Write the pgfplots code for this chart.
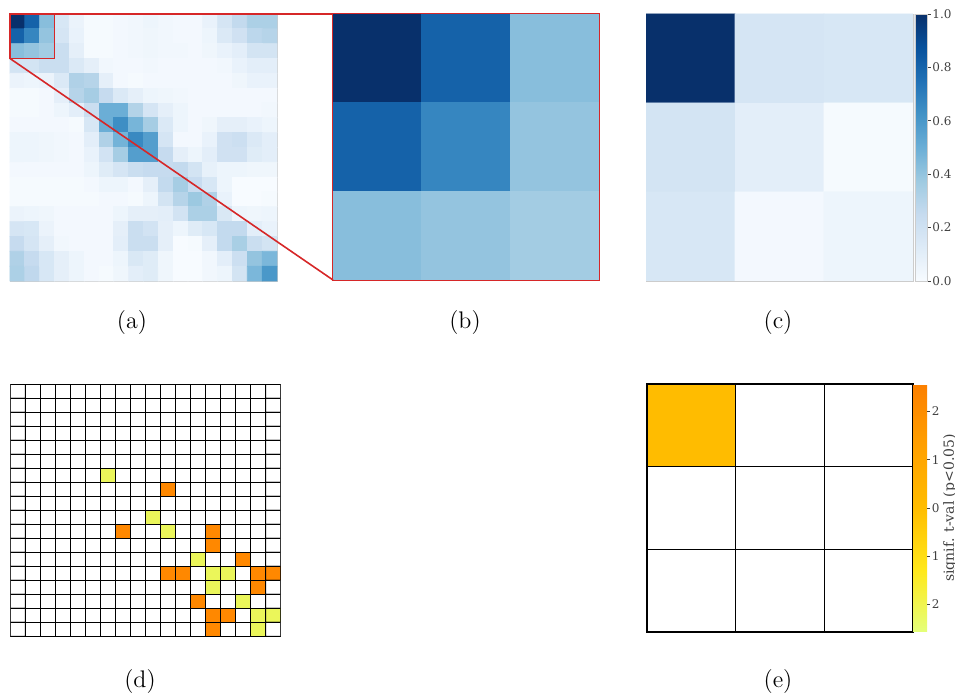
\documentclass[border=0pt]{standalone}
\usepackage{fontspec}
\usepackage{pgfplots}
\pgfplotsset{compat=1.18}
\usepgfplotslibrary{patchplots}
\newfontfamily\dvs{DejaVu Serif}
\definecolor{zoomred}{RGB}{214,39,40}

\pgfplotsset{
  colormap={blues}{rgb255=(247,251,255) rgb255=(222,235,247) rgb255=(198,219,239)
    rgb255=(158,202,225) rgb255=(107,174,214) rgb255=(66,146,198) rgb255=(33,113,181)
    rgb255=(8,81,156) rgb255=(8,48,107)},
  colormap={wistia}{rgb255=(228,255,122) rgb255=(255,232,26) rgb255=(255,189,0)
    rgb255=(255,160,0) rgb255=(252,127,0)},
  colormap={sig}{rgb255=(235,246,90) rgb255=(255,255,255) rgb255=(255,136,0)},
  heat/.style={scale only axis, anchor=north west, xtick=\empty, ytick=\empty,
    y dir=reverse, axis line style={black!20}},
  cbticks/.style={scale only axis, ytick pos=right, yticklabel pos=right,
    tick align=outside, major tick length=1.5pt,
    tick style={black!75, line width=0.4pt},
    yticklabel style={font=\dvs\fontsize{6}{7}\selectfont, text=black!75, inner sep=0.7pt}},
}

\begin{document}
\begin{tikzpicture}
\useasboundingbox (0,0) rectangle (477.5pt,-347pt);

% (a) full matrix
\begin{axis}[heat, name=pa, at={(5pt,-7pt)}, width=133.5pt, height=133.5pt,
  xmin=-0.5, xmax=17.5, ymin=-0.5, ymax=17.5, colormap name=blues,
  point meta min=0, point meta max=1, clip=false]
\addplot[matrix plot*, mesh/cols=18, point meta=explicit] coordinates {
(0,0)[1.00] (1,0)[0.81] (2,0)[0.43] (3,0)[0.16] (4,0)[0.06] (5,0)[0.01] (6,0)[0.01] (7,0)[0.02] (8,0)[0.03] (9,0)[0.05] (10,0)[0.03] (11,0)[0.02] (12,0)[0.02] (13,0)[0.07] (14,0)[0.17] (15,0)[0.26] (16,0)[0.33] (17,0)[0.33]
(0,1)[0.81] (1,1)[0.67] (2,1)[0.40] (3,1)[0.17] (4,1)[0.07] (5,1)[0.01] (6,1)[0.01] (7,1)[0.02] (8,1)[0.03] (9,1)[0.04] (10,1)[0.03] (11,1)[0.02] (12,1)[0.02] (13,1)[0.05] (14,1)[0.14] (15,1)[0.20] (16,1)[0.28] (17,1)[0.30]
(0,2)[0.43] (1,2)[0.40] (2,2)[0.36] (3,2)[0.23] (4,2)[0.09] (5,2)[0.01] (6,2)[0.01] (7,2)[0.02] (8,2)[0.03] (9,2)[0.04] (10,2)[0.03] (11,2)[0.03] (12,2)[0.02] (13,2)[0.04] (14,2)[0.07] (15,2)[0.10] (16,2)[0.18] (17,2)[0.18]
(0,3)[0.18] (1,3)[0.18] (2,3)[0.23] (3,3)[0.23] (4,3)[0.14] (5,3)[0.09] (6,3)[0.03] (7,3)[0.02] (8,3)[0.02] (9,3)[0.03] (10,3)[0.02] (11,3)[0.02] (12,3)[0.02] (13,3)[0.02] (14,3)[0.03] (15,3)[0.07] (16,3)[0.10] (17,3)[0.10]
(0,4)[0.06] (1,4)[0.05] (2,4)[0.06] (3,4)[0.14] (4,4)[0.32] (5,4)[0.30] (6,4)[0.09] (7,4)[0.02] (8,4)[0.01] (9,4)[0.02] (10,4)[0.02] (11,4)[0.02] (12,4)[0.02] (13,4)[0.02] (14,4)[0.02] (15,4)[0.04] (16,4)[0.07] (17,4)[0.07]
(0,5)[0.01] (1,5)[0.01] (2,5)[0.02] (3,5)[0.09] (4,5)[0.30] (5,5)[0.35] (6,5)[0.25] (7,5)[0.14] (8,5)[0.09] (9,5)[0.05] (10,5)[0.04] (11,5)[0.03] (12,5)[0.02] (13,5)[0.02] (14,5)[0.02] (15,5)[0.02] (16,5)[0.02] (17,5)[0.02]
(0,6)[0.01] (1,6)[0.01] (2,6)[0.02] (3,6)[0.05] (4,6)[0.10] (5,6)[0.23] (6,6)[0.50] (7,6)[0.50] (8,6)[0.31] (9,6)[0.17] (10,6)[0.09] (11,6)[0.05] (12,6)[0.02] (13,6)[0.02] (14,6)[0.02] (15,6)[0.02] (16,6)[0.02] (17,6)[0.03]
(0,7)[0.02] (1,7)[0.02] (2,7)[0.02] (3,7)[0.02] (4,7)[0.01] (5,7)[0.16] (6,7)[0.50] (7,7)[0.64] (8,7)[0.47] (9,7)[0.35] (10,7)[0.14] (11,7)[0.05] (12,7)[0.02] (13,7)[0.04] (14,7)[0.09] (15,7)[0.09] (16,7)[0.07] (17,7)[0.05]
(0,8)[0.05] (1,8)[0.05] (2,8)[0.04] (3,8)[0.03] (4,8)[0.02] (5,8)[0.10] (6,8)[0.32] (7,8)[0.48] (8,8)[0.66] (9,8)[0.57] (10,8)[0.17] (11,8)[0.02] (12,8)[0.02] (13,8)[0.07] (14,8)[0.20] (15,8)[0.22] (16,8)[0.14] (17,8)[0.10]
(0,9)[0.05] (1,9)[0.05] (2,9)[0.04] (3,9)[0.03] (4,9)[0.02] (5,9)[0.07] (6,9)[0.19] (7,9)[0.35] (8,9)[0.57] (9,9)[0.57] (10,9)[0.25] (11,9)[0.09] (12,9)[0.05] (13,9)[0.10] (14,9)[0.20] (15,9)[0.20] (16,9)[0.12] (17,9)[0.10]
(0,10)[0.02] (1,10)[0.02] (2,10)[0.02] (3,10)[0.02] (4,10)[0.02] (5,10)[0.05] (6,10)[0.12] (7,10)[0.17] (8,10)[0.23] (9,10)[0.25] (10,10)[0.25] (11,10)[0.26] (12,10)[0.18] (13,10)[0.08] (14,10)[0.05] (15,10)[0.05] (16,10)[0.04] (17,10)[0.04]
(0,11)[0.01] (1,11)[0.01] (2,11)[0.01] (3,11)[0.01] (4,11)[0.01] (5,11)[0.02] (6,11)[0.05] (7,11)[0.05] (8,11)[0.02] (9,11)[0.09] (10,11)[0.26] (11,11)[0.35] (12,11)[0.24] (13,11)[0.16] (14,11)[0.05] (15,11)[0.00] (16,11)[0.00] (17,11)[0.00]
(0,12)[0.01] (1,12)[0.01] (2,12)[0.01] (3,12)[0.01] (4,12)[0.01] (5,12)[0.01] (6,12)[0.02] (7,12)[0.02] (8,12)[0.01] (9,12)[0.05] (10,12)[0.18] (11,12)[0.30] (12,12)[0.38] (13,12)[0.32] (14,12)[0.07] (15,12)[0.00] (16,12)[0.00] (17,12)[0.01]
(0,13)[0.06] (1,13)[0.05] (2,13)[0.04] (3,13)[0.02] (4,13)[0.02] (5,13)[0.02] (6,13)[0.02] (7,13)[0.05] (8,13)[0.09] (9,13)[0.09] (10,13)[0.10] (11,13)[0.19] (12,13)[0.33] (13,13)[0.33] (14,13)[0.15] (15,13)[0.05] (16,13)[0.04] (17,13)[0.05]
(0,14)[0.17] (1,14)[0.16] (2,14)[0.06] (3,14)[0.02] (4,14)[0.02] (5,14)[0.02] (6,14)[0.02] (7,14)[0.09] (8,14)[0.23] (9,14)[0.19] (10,14)[0.09] (11,14)[0.05] (12,14)[0.12] (13,14)[0.16] (14,14)[0.26] (15,14)[0.26] (16,14)[0.10] (17,14)[0.07]
(0,15)[0.25] (1,15)[0.17] (2,15)[0.09] (3,15)[0.03] (4,15)[0.02] (5,15)[0.02] (6,15)[0.02] (7,15)[0.10] (8,15)[0.23] (9,15)[0.23] (10,15)[0.09] (11,15)[0.00] (12,15)[0.01] (13,15)[0.09] (14,15)[0.26] (15,15)[0.34] (16,15)[0.23] (17,15)[0.18]
(0,16)[0.32] (1,16)[0.25] (2,16)[0.16] (3,16)[0.09] (4,16)[0.05] (5,16)[0.02] (6,16)[0.02] (7,16)[0.05] (8,16)[0.15] (9,16)[0.12] (10,16)[0.04] (11,16)[0.00] (12,16)[0.00] (13,16)[0.03] (14,16)[0.10] (15,16)[0.22] (16,16)[0.40] (17,16)[0.46]
(0,17)[0.33] (1,17)[0.27] (2,17)[0.16] (3,17)[0.09] (4,17)[0.05] (5,17)[0.02] (6,17)[0.01] (7,17)[0.04] (8,17)[0.10] (9,17)[0.12] (10,17)[0.04] (11,17)[0.00] (12,17)[0.00] (13,17)[0.03] (14,17)[0.05] (15,17)[0.18] (16,17)[0.46] (17,17)[0.60]
};
\draw[zoomred, line width=0.8pt] (axis cs:-0.5,-0.5) rectangle (axis cs:2.5,2.5);
\coordinate (zTR) at (axis cs:2.5,-0.5);
\coordinate (zBL) at (axis cs:-0.5,2.5);
\end{axis}

% (b) zoomed block
\begin{axis}[heat, name=pb, at={(166.5pt,-7pt)}, width=133pt, height=133pt,
  xmin=-0.5, xmax=2.5, ymin=-0.5, ymax=2.5, colormap name=blues,
  point meta min=0, point meta max=1,
  axis line style={zoomred, line width=0.8pt}]
\addplot[matrix plot*, mesh/cols=3, point meta=explicit] coordinates {
(0,0)[1.00] (1,0)[0.81] (2,0)[0.43]
(0,1)[0.81] (1,1)[0.67] (2,1)[0.40]
(0,2)[0.43] (1,2)[0.40] (2,2)[0.36]
};
\end{axis}
\draw[zoomred, line width=0.8pt] (zTR) -- (pb.north west);
\draw[zoomred, line width=0.8pt] (zBL) -- (pb.south west);

% (c) reduced matrix with colorbar
\begin{axis}[heat, at={(323pt,-7pt)}, width=133.5pt, height=133.5pt,
  xmin=-0.5, xmax=2.5, ymin=-0.5, ymax=2.5, colormap name=blues,
  point meta min=0, point meta max=1,
  colorbar,
  colorbar style={cbticks, at={(parent axis.north east)}, anchor=north west,
    xshift={1pt-0.3cm}, width=6.3pt, height=133.5pt,
    ytick={0,0.2,0.4,0.6,0.8,1},
    yticklabel style={/pgf/number format/.cd, fixed, fixed zerofill, precision=1,
      assume math mode=true},
    axis line style={black!20}}]
\addplot[matrix plot*, mesh/cols=3, point meta=explicit] coordinates {
(0,0)[1.00] (1,0)[0.17] (2,0)[0.16]
(0,1)[0.18] (1,1)[0.10] (2,1)[0.01]
(0,2)[0.16] (1,2)[0.02] (2,2)[0.05]
};
\end{axis}

% (d) significance map
\begin{axis}[heat, at={(5.25pt,-192.25pt)}, width=135pt, height=126pt,
  xmin=-0.5, xmax=17.5, ymin=-0.5, ymax=17.5, colormap name=sig,
  point meta min=-2.2, point meta max=2.2,
  axis line style={black, line width=0.5pt}]
\addplot[matrix plot*, mesh/cols=18, point meta=explicit, draw=black, line width=0.5pt] coordinates {
(0,0)[0] (1,0)[0] (2,0)[0] (3,0)[0] (4,0)[0] (5,0)[0] (6,0)[0] (7,0)[0] (8,0)[0] (9,0)[0] (10,0)[0] (11,0)[0] (12,0)[0] (13,0)[0] (14,0)[0] (15,0)[0] (16,0)[0] (17,0)[0]
(0,1)[0] (1,1)[0] (2,1)[0] (3,1)[0] (4,1)[0] (5,1)[0] (6,1)[0] (7,1)[0] (8,1)[0] (9,1)[0] (10,1)[0] (11,1)[0] (12,1)[0] (13,1)[0] (14,1)[0] (15,1)[0] (16,1)[0] (17,1)[0]
(0,2)[0] (1,2)[0] (2,2)[0] (3,2)[0] (4,2)[0] (5,2)[0] (6,2)[0] (7,2)[0] (8,2)[0] (9,2)[0] (10,2)[0] (11,2)[0] (12,2)[0] (13,2)[0] (14,2)[0] (15,2)[0] (16,2)[0] (17,2)[0]
(0,3)[0] (1,3)[0] (2,3)[0] (3,3)[0] (4,3)[0] (5,3)[0] (6,3)[0] (7,3)[0] (8,3)[0] (9,3)[0] (10,3)[0] (11,3)[0] (12,3)[0] (13,3)[0] (14,3)[0] (15,3)[0] (16,3)[0] (17,3)[0]
(0,4)[0] (1,4)[0] (2,4)[0] (3,4)[0] (4,4)[0] (5,4)[0] (6,4)[0] (7,4)[0] (8,4)[0] (9,4)[0] (10,4)[0] (11,4)[0] (12,4)[0] (13,4)[0] (14,4)[0] (15,4)[0] (16,4)[0] (17,4)[0]
(0,5)[0] (1,5)[0] (2,5)[0] (3,5)[0] (4,5)[0] (5,5)[0] (6,5)[0] (7,5)[0] (8,5)[0] (9,5)[0] (10,5)[0] (11,5)[0] (12,5)[0] (13,5)[0] (14,5)[0] (15,5)[0] (16,5)[0] (17,5)[0]
(0,6)[0] (1,6)[0] (2,6)[0] (3,6)[0] (4,6)[0] (5,6)[0] (6,6)[-2.2] (7,6)[0] (8,6)[0] (9,6)[0] (10,6)[0] (11,6)[0] (12,6)[0] (13,6)[0] (14,6)[0] (15,6)[0] (16,6)[0] (17,6)[0]
(0,7)[0] (1,7)[0] (2,7)[0] (3,7)[0] (4,7)[0] (5,7)[0] (6,7)[0] (7,7)[0] (8,7)[0] (9,7)[0] (10,7)[2.2] (11,7)[0] (12,7)[0] (13,7)[0] (14,7)[0] (15,7)[0] (16,7)[0] (17,7)[0]
(0,8)[0] (1,8)[0] (2,8)[0] (3,8)[0] (4,8)[0] (5,8)[0] (6,8)[0] (7,8)[0] (8,8)[0] (9,8)[0] (10,8)[0] (11,8)[0] (12,8)[0] (13,8)[0] (14,8)[0] (15,8)[0] (16,8)[0] (17,8)[0]
(0,9)[0] (1,9)[0] (2,9)[0] (3,9)[0] (4,9)[0] (5,9)[0] (6,9)[0] (7,9)[0] (8,9)[0] (9,9)[-2.2] (10,9)[0] (11,9)[0] (12,9)[0] (13,9)[0] (14,9)[0] (15,9)[0] (16,9)[0] (17,9)[0]
(0,10)[0] (1,10)[0] (2,10)[0] (3,10)[0] (4,10)[0] (5,10)[0] (6,10)[0] (7,10)[2.2] (8,10)[0] (9,10)[0] (10,10)[-2.2] (11,10)[0] (12,10)[0] (13,10)[2.2] (14,10)[0] (15,10)[0] (16,10)[0] (17,10)[0]
(0,11)[0] (1,11)[0] (2,11)[0] (3,11)[0] (4,11)[0] (5,11)[0] (6,11)[0] (7,11)[0] (8,11)[0] (9,11)[0] (10,11)[0] (11,11)[0] (12,11)[0] (13,11)[2.2] (14,11)[0] (15,11)[0] (16,11)[0] (17,11)[0]
(0,12)[0] (1,12)[0] (2,12)[0] (3,12)[0] (4,12)[0] (5,12)[0] (6,12)[0] (7,12)[0] (8,12)[0] (9,12)[0] (10,12)[0] (11,12)[0] (12,12)[-2.2] (13,12)[0] (14,12)[0] (15,12)[2.2] (16,12)[0] (17,12)[0]
(0,13)[0] (1,13)[0] (2,13)[0] (3,13)[0] (4,13)[0] (5,13)[0] (6,13)[0] (7,13)[0] (8,13)[0] (9,13)[0] (10,13)[2.2] (11,13)[2.2] (12,13)[0] (13,13)[-2.2] (14,13)[-2.2] (15,13)[0] (16,13)[2.2] (17,13)[2.2]
(0,14)[0] (1,14)[0] (2,14)[0] (3,14)[0] (4,14)[0] (5,14)[0] (6,14)[0] (7,14)[0] (8,14)[0] (9,14)[0] (10,14)[0] (11,14)[0] (12,14)[0] (13,14)[-2.2] (14,14)[0] (15,14)[0] (16,14)[2.2] (17,14)[0]
(0,15)[0] (1,15)[0] (2,15)[0] (3,15)[0] (4,15)[0] (5,15)[0] (6,15)[0] (7,15)[0] (8,15)[0] (9,15)[0] (10,15)[0] (11,15)[0] (12,15)[2.2] (13,15)[0] (14,15)[0] (15,15)[-2.2] (16,15)[0] (17,15)[0]
(0,16)[0] (1,16)[0] (2,16)[0] (3,16)[0] (4,16)[0] (5,16)[0] (6,16)[0] (7,16)[0] (8,16)[0] (9,16)[0] (10,16)[0] (11,16)[0] (12,16)[0] (13,16)[2.2] (14,16)[2.2] (15,16)[0] (16,16)[-2.2] (17,16)[-2.2]
(0,17)[0] (1,17)[0] (2,17)[0] (3,17)[0] (4,17)[0] (5,17)[0] (6,17)[0] (7,17)[0] (8,17)[0] (9,17)[0] (10,17)[0] (11,17)[0] (12,17)[0] (13,17)[2.2] (14,17)[0] (15,17)[0] (16,17)[-2.2] (17,17)[0]
};
\end{axis}

% (e) reduced significance map with colorbar
\begin{axis}[scale only axis, anchor=north west, at={(323.5pt,-192pt)}, width=133pt, height=124pt,
  xmin=0, xmax=3, ymin=0, ymax=3, y dir=reverse,
  xtick={1,2}, ytick={1,2}, xticklabels={}, yticklabels={}, major tick length=0pt,
  grid=major, major grid style={black, line width=0.6pt}, axis on top,
  axis line style={black, line width=0.6pt},
  colormap name=wistia, point meta min=-2.57, point meta max=2.57,
  colorbar,
  colorbar style={cbticks, at={(parent axis.north east)}, anchor=north west,
    xshift={-0.3cm}, width=7pt, height=124pt,
    ytick={-2,-1,0,1,2}, yticklabels={2,1,0,1,2},
    axis line style={draw=none},
    ylabel={signif. t-val (p<0.05)}, ylabel near ticks,
    ylabel style={font=\dvs\fontsize{7}{8}\selectfont, text=black!75, inner sep=1pt}}]
\addplot[patch, patch type=rectangle, shader=flat, point meta=explicit] coordinates {
(0,0)[0.05] (1,0)[0.05] (1,1)[0.05] (0,1)[0.05]
};
\end{axis}

% panel captions
\node[font=\fontsize{12}{14}\selectfont] at (66pt,-161.5pt) {(a)};
\node[font=\fontsize{12}{14}\selectfont] at (232.5pt,-161.5pt) {(b)};
\node[font=\fontsize{12}{14}\selectfont] at (389pt,-161.5pt) {(c)};
\node[font=\fontsize{12}{14}\selectfont] at (70pt,-341pt) {(d)};
\node[font=\fontsize{12}{14}\selectfont] at (389pt,-341pt) {(e)};
\end{tikzpicture}
\end{document}
